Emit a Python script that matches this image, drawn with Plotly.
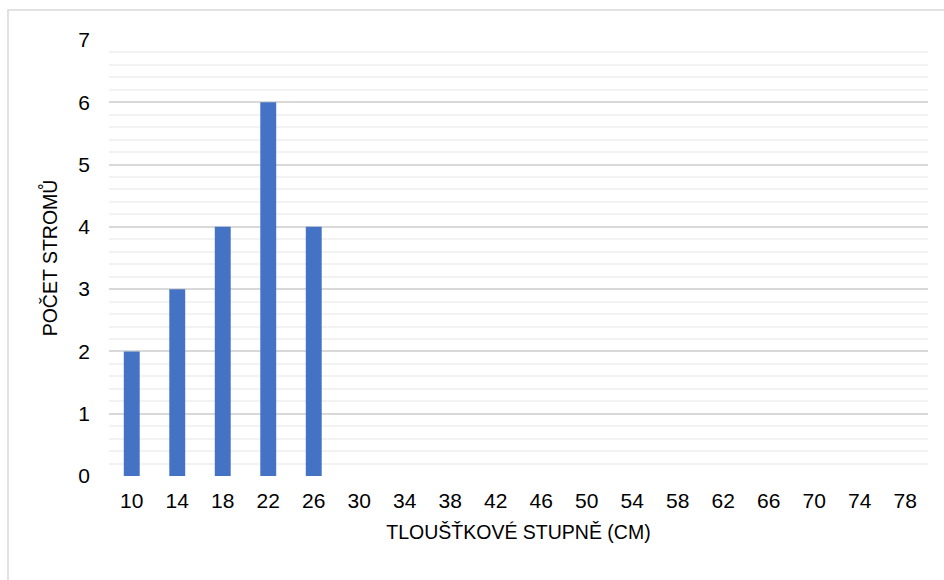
import plotly.graph_objects as go

categories = [str(v) for v in range(10, 79, 4)]
counts = [2, 3, 4, 6, 4, 0, 0, 0, 0, 0, 0, 0, 0, 0, 0, 0, 0, 0]
y_ticks = [0, 1, 2, 3, 4, 5, 6, 7]

FONT = "Liberation Sans Narrow, Arial Narrow, Liberation Sans, Arial, sans-serif"

fig = go.Figure()
fig.add_trace(go.Bar(x=categories, y=counts, marker=dict(color="#4472C4", line=dict(width=0)),
                     width=0.35))

fig.update_layout(
    width=944, height=580,
    margin=dict(l=109, r=16, t=40, b=104),
    paper_bgcolor="white", plot_bgcolor="white",
    font=dict(family=FONT, size=21, color="#000000"),
    showlegend=False,
    bargap=0.65,
    xaxis=dict(
        type="category", showgrid=False, zeroline=False, showline=False,
        ticks="", tickfont=dict(size=21), ticklabelstandoff=10,
        title=dict(text="TLOUŠŤKOVÉ STUPNĚ (CM)", font=dict(size=19.5), standoff=14),
    ),
    yaxis=dict(
        range=[0, 7], tickvals=y_ticks, showgrid=True, gridcolor="#D9D9D9", gridwidth=1.5,
        zeroline=False, showline=False, ticks="", tickfont=dict(size=21), ticklabelstandoff=18,
        minor=dict(dtick=0.2, showgrid=True, gridcolor="#F2F2F2", gridwidth=1.5),
        title=dict(text="POČET STROMŮ", font=dict(size=19.5), standoff=15),
    ),
    shapes=[dict(type="rect", xref="paper", yref="paper", x0=-101/819, x1=1.05, y0=-0.3, y1=1+30/436,
                 line=dict(color="#D9D9D9", width=1.5), fillcolor="rgba(0,0,0,0)", layer="below")],
)
fig.write_html("out.html")
